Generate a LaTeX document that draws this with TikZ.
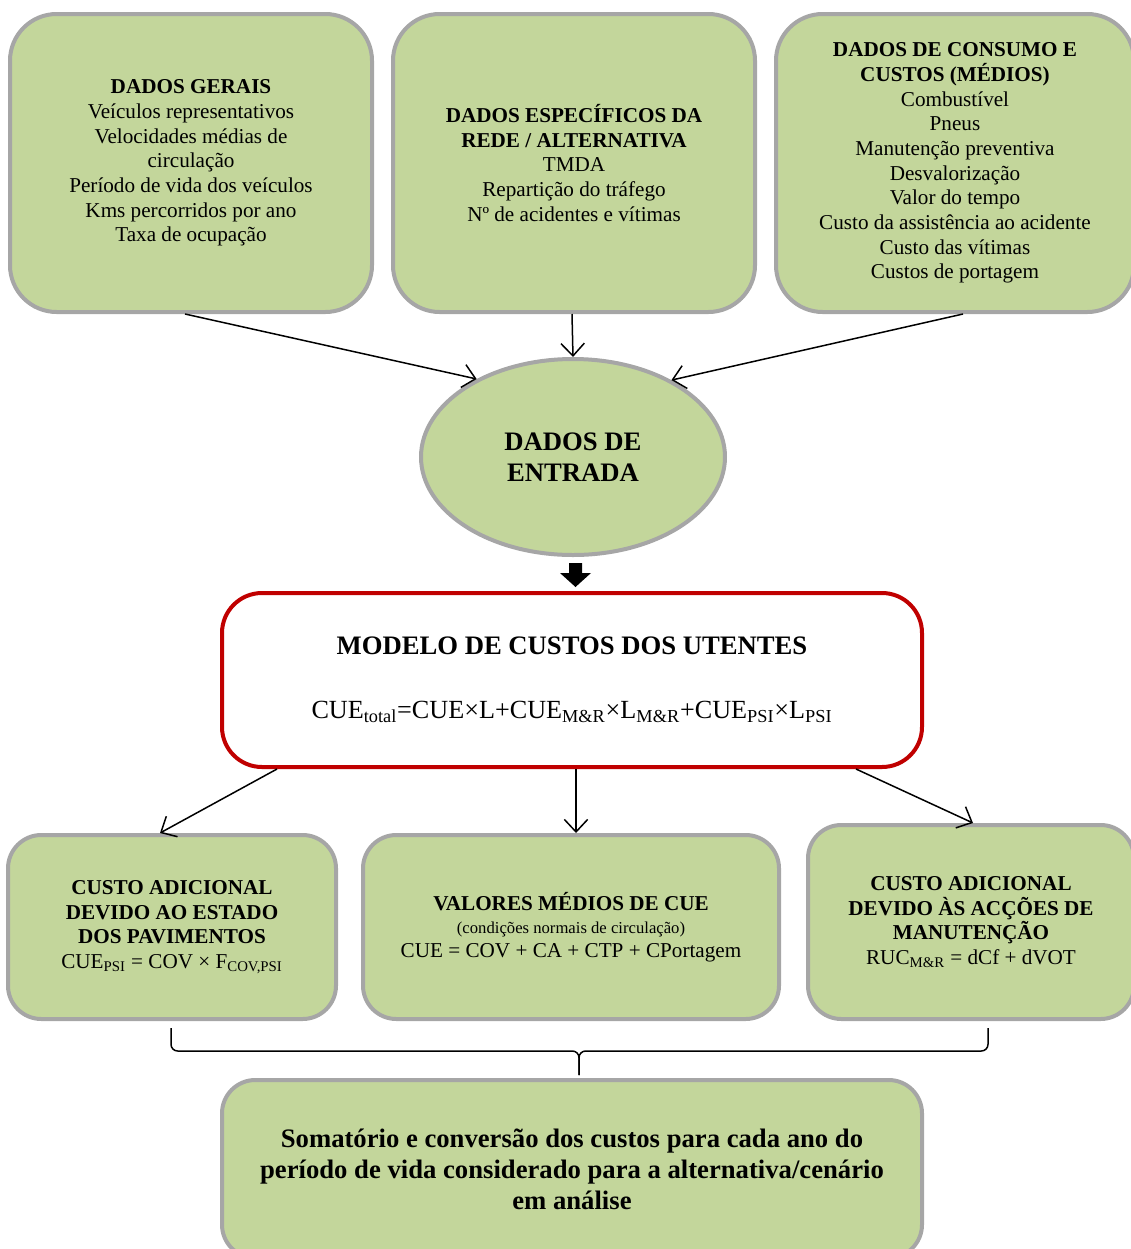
\documentclass[tikz,border=0pt]{standalone}
\usepackage{fontspec}
\setmainfont{Liberation Serif}
\usetikzlibrary{arrows.meta,shapes.geometric,calc}
\definecolor{boxgreen}{HTML}{C3D69B}
\definecolor{boxgray}{HTML}{A6A6A6}
\definecolor{boxred}{HTML}{C00000}
\begin{document}
\begin{tikzpicture}[x=0.6pt,y=-0.6pt,
  greenbox/.style={draw=boxgray, line width=2.4pt, fill=boxgreen, align=center, inner sep=0pt,
    font=\fontsize{12.7}{14.8}\selectfont},
  sz/.style 2 args={minimum width=#1*0.6pt, minimum height=#2*0.6pt},
  conn/.style={line width=0.9pt, -{Straight Barb[length=7.5pt,width=14pt]}},
  bracepath/.style={line width=0.9pt, rounded corners=4pt},
]
\useasboundingbox (0,0) rectangle (1131,1249);

% top boxes
\node[greenbox, sz={362}{298}, rounded corners=28pt] (b1) at (191,163)
  {\textbf{DADOS GERAIS}\\Veículos representativos\\Velocidades médias de\\circulação\\Período de vida dos veículos\\Kms percorridos por ano\\Taxa de ocupação};
\node[greenbox, sz={362}{298}, rounded corners=28pt] (b2) at (574,163)
  {\textbf{DADOS ESPECÍFICOS DA}\\\textbf{REDE / ALTERNATIVA}\\TMDA\\Repartição do tráfego\\Nº de acidentes e vítimas};
\node[greenbox, sz={358}{298}, rounded corners=28pt] (b3) at (955,163)
  {\textbf{DADOS DE CONSUMO E}\\\textbf{CUSTOS (MÉDIOS)}\\Combustível\\Pneus\\Manutenção preventiva\\Desvalorização\\Valor do tempo\\Custo da assistência ao acidente\\Custo das vítimas\\Custos de portagem};

% ellipse
\node[greenbox, ellipse, sz={304}{196}, font=\fontsize{16}{18.6}\selectfont\bfseries] (e) at (573,457)
  {DADOS DE\\ENTRADA};

\draw[conn] ($(b1.south)+(-6,0)$) -- (e.141);
\draw[conn] ($(b2.south)+(-2,0)$) -- (e.north);
\draw[conn] ($(b3.south)+(8,0)$) -- (e.38);

% model box
\node[draw=boxred, line width=2.4pt, fill=white, rounded corners=24pt, sz={700}{174}, align=center, inner sep=0pt] (m) at (572,680)
  {{\fontsize{16}{19}\selectfont\bfseries MODELO DE CUSTOS DOS UTENTES}\\[26pt]
   {\fontsize{15.7}{19}\selectfont CUE\textsubscript{total}=CUE×L+CUE\textsubscript{M\&R}×L\textsubscript{M\&R}+CUE\textsubscript{PSI}×L\textsubscript{PSI}}};

% block arrow
\fill[black] (569,563) -- (582,563) -- (582,573) -- (591,573) -- (575.5,587) -- (560,573) -- (569,573) -- cycle;

% bottom boxes
\node[greenbox, sz={328}{184}, rounded corners=20pt] (c1) at (172,927)
  {\textbf{CUSTO ADICIONAL}\\\textbf{DEVIDO AO ESTADO}\\\textbf{DOS PAVIMENTOS}\\CUE\textsubscript{PSI} = COV × F\textsubscript{COV,PSI}};
\node[greenbox, sz={416}{184}, rounded corners=20pt, font=\fontsize{12.7}{14.1}\selectfont] (c2) at (571,927)
  {\textbf{VALORES MÉDIOS DE CUE}\\{\fontsize{10}{14.1}\selectfont (condições normais de circulação)}\\CUE = COV + CA + CTP + CPortagem};
\node[greenbox, sz={326}{194}, rounded corners=20pt] (c3) at (971,922)
  {\textbf{CUSTO ADICIONAL}\\\textbf{DEVIDO ÀS ACÇÕES DE}\\\textbf{MANUTENÇÃO}\\RUC\textsubscript{M\&R} = dCf + dVOT};

\draw[conn] ($(m.south)+(-295,0)$) -- ($(c1.north)+(-12,0)$);
\draw[conn] ($(m.south)+(4,0)$) -- ($(c2.north)+(5,0)$);
\draw[conn] ($(m.south)+(284,0)$) -- ($(c3.north)+(2,0)$);

% final box
\node[greenbox, sz={700}{178}, rounded corners=20pt, font=\fontsize{16}{18.6}\selectfont\bfseries] (f) at (572,1169)
  {Somatório e conversão dos custos para cada ano do\\período de vida considerado para a alternativa/cenário\\em análise};

% brace
\coordinate (bl) at (171,1028);
\coordinate (br) at (988,1028);
\coordinate (bm) at (579,1051);
\coordinate (bt) at ($(f.north)+(7,-3)$);
\draw[bracepath] (bl) |- (bm) -- (bt);
\draw[bracepath] (br) |- (bm) -- (bt);
\end{tikzpicture}
\end{document}
